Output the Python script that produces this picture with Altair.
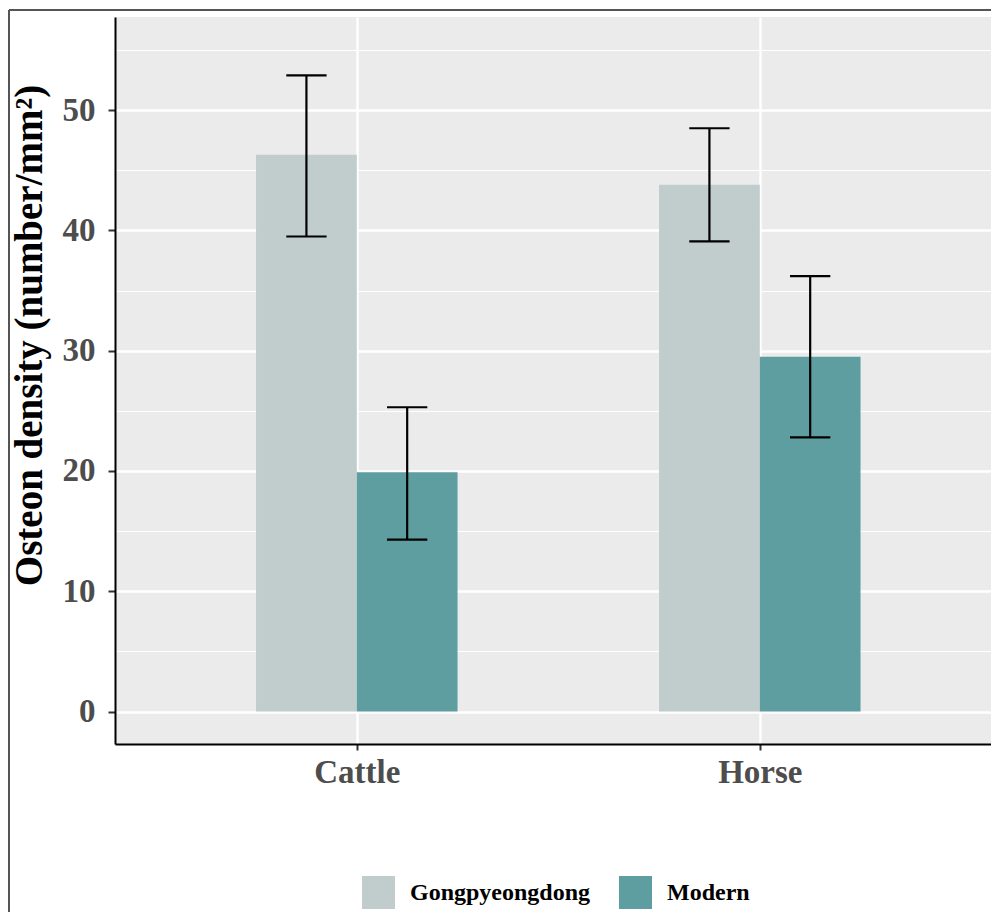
import altair as alt
import pandas as pd

# ---- data ----
species = ["Cattle", "Horse"]
groups = ["Gongpyeongdong", "Modern"]
mean_gong = [46.3, 43.8]
low_gong = [39.5, 39.1]
high_gong = [52.9, 48.5]
mean_mod = [19.9, 29.5]
low_mod = [14.3, 22.8]
high_mod = [25.3, 36.2]
colors = ["#C1CDCD", "#5F9EA0"]
major_ticks = [0, 10, 20, 30, 40, 50]
minor_ticks = [5, 15, 25, 35, 45, 55]

rows = []
for i, sp in enumerate(species):
    rows.append(dict(species=sp, group=groups[0], pos=i + 1, side=-1,
                     mean=mean_gong[i], low=low_gong[i], high=high_gong[i]))
    rows.append(dict(species=sp, group=groups[1], pos=i + 1, side=1,
                     mean=mean_mod[i], low=low_mod[i], high=high_mod[i]))
df = pd.DataFrame(rows)

FONT = "Liberation Serif"
W, H = 876, 727

xscale = alt.Scale(domain=[0.4, 0.4 + W / 403], nice=False, zero=False)
yscale = alt.Scale(domain=[-2.7, 57.75], nice=False, zero=False)

label_expr = " : ".join(
    [f"datum.value == {i + 1} ? '{s}'" for i, s in enumerate(species)]) + " : ''"

xaxis = alt.Axis(values=[1, 2], labelExpr=label_expr, title=None,
                 grid=True, gridColor="white", gridWidth=2.4,
                 domainColor="black", domainWidth=2,
                 tickColor="#333333", tickWidth=2, tickSize=6,
                 labelFont=FONT, labelFontWeight="bold", labelFontSize=33,
                 labelColor="#4D4D4D", labelPadding=6)

cond_minor = "datum.value % 10 != 0"
yaxis = alt.Axis(values=sorted(major_ticks + minor_ticks),
                 labelExpr="datum.value % 10 == 0 ? datum.label : ''",
                 title="Osteon density (number/mm²)",
                 grid=True, gridColor="white",
                 gridWidth={"condition": {"test": cond_minor, "value": 1.2}, "value": 2.4},
                 tickOpacity={"condition": {"test": cond_minor, "value": 0}, "value": 1},
                 domainColor="black", domainWidth=2,
                 tickColor="#333333", tickWidth=2, tickSize=7,
                 labelFont=FONT, labelFontWeight="bold", labelFontSize=33,
                 labelColor="#4D4D4D", labelPadding=13,
                 titleFont=FONT, titleFontWeight="bold", titleFontSize=39,
                 titleColor="black", titleX=-86, titleY=318,
                 titleBaseline="middle", titleAlign="center", titleAngle=270)

base = alt.Chart(df).transform_calculate(
    xc="datum.pos + datum.side * 0.125",
    xl="datum.pos + datum.side * 0.125 - 0.125",
    xr="datum.pos + datum.side * 0.125 + 0.125",
    cl="datum.pos + datum.side * 0.125 - 0.05",
    cr="datum.pos + datum.side * 0.125 + 0.05",
    zero="0",
)

legend = alt.Legend(orient="none", legendX=247, legendY=859, direction="horizontal",
                    title=None, symbolType="square", symbolSize=1089,
                    symbolStrokeWidth=0, symbolOpacity=1,
                    labelFont=FONT, labelFontWeight="bold", labelFontSize=24,
                    labelColor="black", labelOffset=15, columnPadding=28,
                    labelLimit=400, padding=0)

bars = base.mark_bar(opacity=1).encode(
    x=alt.X("xl:Q", scale=xscale, axis=xaxis),
    x2="xr:Q",
    y=alt.Y("mean:Q", scale=yscale, axis=yaxis),
    y2="zero:Q",
    color=alt.Color("group:N", scale=alt.Scale(domain=groups, range=colors), legend=legend),
)

stems = base.mark_rule(color="black", strokeWidth=2.2).encode(
    x=alt.X("xc:Q", scale=xscale, axis=xaxis),
    y=alt.Y("low:Q", scale=yscale, axis=yaxis),
    y2="high:Q",
)
cap_hi = base.mark_rule(color="black", strokeWidth=2.2).encode(
    x=alt.X("cl:Q", scale=xscale, axis=xaxis),
    x2="cr:Q",
    y=alt.Y("high:Q", scale=yscale, axis=yaxis),
)
cap_lo = base.mark_rule(color="black", strokeWidth=2.2).encode(
    x=alt.X("cl:Q", scale=xscale, axis=xaxis),
    x2="cr:Q",
    y=alt.Y("low:Q", scale=yscale, axis=yaxis),
)

one = pd.DataFrame({"a": [0]})
frame_left = alt.Chart(one).mark_rule(color="#555555", strokeWidth=2).encode(
    x=alt.value(-106), y=alt.value(-7), y2=alt.value(H + 200))
frame_top = alt.Chart(one).mark_rule(color="#555555", strokeWidth=2).encode(
    x=alt.value(-106), x2=alt.value(W + 10), y=alt.value(-7))

chart = alt.layer(bars, stems, cap_hi, cap_lo, frame_left, frame_top).properties(
    width=W, height=H,
    autosize=alt.AutoSizeParams(type="none"),
    padding={"left": 107, "top": 9, "right": 0, "bottom": 168},
    background="white",
).configure_view(fill="#EBEBEB", strokeWidth=0)

chart.save("out.html", embed_options={"renderer": "svg", "actions": False})
